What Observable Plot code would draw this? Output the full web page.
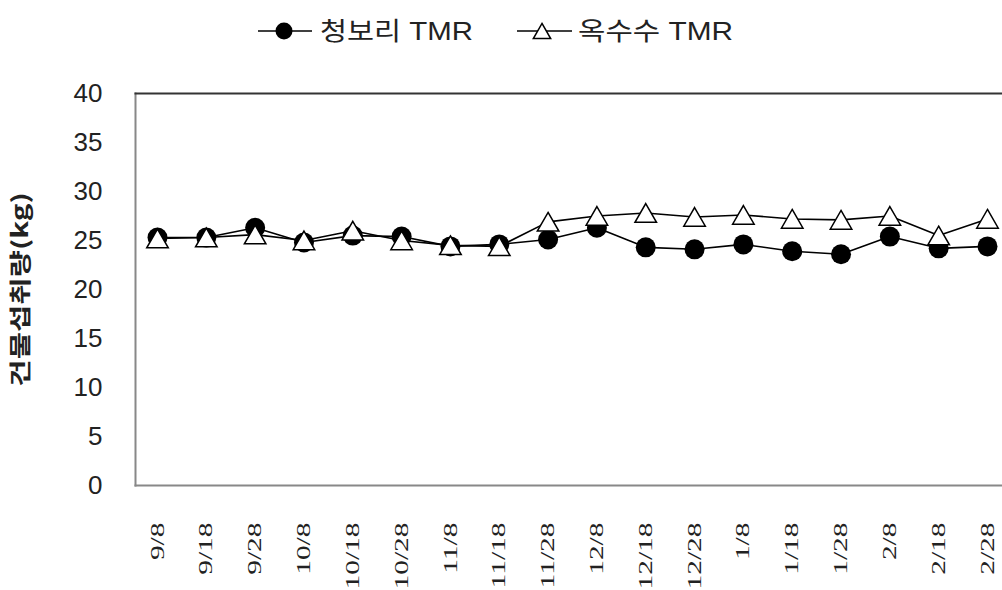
<!DOCTYPE html>
<html>
<head>
<meta charset="utf-8">
<script src="https://cdn.jsdelivr.net/npm/d3@7"></script>
<script src="https://cdn.jsdelivr.net/npm/@observablehq/plot@0.6"></script>
<style>
  body { margin: 0; background: white; }
  #chart { width: 1002px; height: 590px; overflow: hidden; position: relative; }
  #legend { display: block; }
</style>
</head>
<body>
<div id="chart">
  <svg id="legend" width="1002" height="60"></svg>
</div>
<script>
// Sampling dates (month/day)
const dates = ["9/8","9/18","9/28","10/8","10/18","10/28","11/8","11/18","11/28","12/8","12/18","12/28","1/8","1/18","1/28","2/8","2/18","2/28"];
// Dry matter intake (kg) per diet
const barley = [25.3, 25.3, 26.3, 24.8, 25.5, 25.4, 24.4, 24.6, 25.1, 26.3, 24.3, 24.1, 24.6, 23.9, 23.6, 25.4, 24.2, 24.4];
const corn   = [25.2, 25.3, 25.6, 25.0, 26.0, 25.0, 24.5, 24.4, 26.9, 27.5, 27.8, 27.4, 27.6, 27.2, 27.1, 27.5, 25.5, 27.2];
const seriesNames = ["청보리 TMR", "옥수수 TMR"];
const yTicks = [0, 5, 10, 15, 20, 25, 30, 35, 40];
const yTitle = "건물섭취량(kg)";

const barleyData = dates.map((d, i) => ({date: d, value: barley[i]}));
const cornData = dates.map((d, i) => ({date: d, value: corn[i]}));

// Legend above the plot
const lg = d3.select("#legend");
const sans = "Liberation Sans, Noto Sans CJK KR, sans-serif";
const cy = 31;
lg.append("line").attr("x1", 258).attr("x2", 312).attr("y1", cy).attr("y2", cy).attr("stroke", "black").attr("stroke-width", 1.5);
lg.append("circle").attr("cx", 284).attr("cy", cy).attr("r", 8.5).attr("fill", "black");
lg.append("text").attr("x", 320).attr("y", cy).attr("dy", "0.35em")
  .attr("font-family", sans).attr("font-size", 25).attr("fill", "#222")
  .attr("textLength", 153).attr("lengthAdjust", "spacingAndGlyphs").text(seriesNames[0]);
lg.append("line").attr("x1", 517).attr("x2", 572).attr("y1", cy).attr("y2", cy).attr("stroke", "black").attr("stroke-width", 1.5);
lg.append("path").attr("transform", `translate(542,${cy + 2.5})`)
  .attr("d", d3.symbol(d3.symbolTriangle, 130)()).attr("fill", "white").attr("stroke", "black").attr("stroke-width", 1.5);
lg.append("text").attr("x", 578).attr("y", cy).attr("dy", "0.35em")
  .attr("font-family", sans).attr("font-size", 25).attr("fill", "#222")
  .attr("textLength", 155).attr("lengthAdjust", "spacingAndGlyphs").text(seriesNames[1]);

const plot = Plot.plot({
  width: 1002,
  height: 530,
  marginLeft: 135,
  marginRight: 0,
  marginTop: 33,
  marginBottom: 105,
  style: {fontFamily: sans, color: "#222", background: "white", overflow: "visible"},
  x: {type: "point", domain: dates, range: [157, 987], padding: 0, round: false, axis: null},
  y: {domain: [0, 40]},
  marks: [
    Plot.frame({anchor: "left", stroke: "#888", strokeWidth: 2}),
    Plot.frame({anchor: "bottom", stroke: "#888", strokeWidth: 2}),
    Plot.frame({anchor: "top", stroke: "#333", strokeWidth: 2}),
    Plot.axisY({ticks: yTicks, tickSize: 0, tickPadding: 33, fontSize: 26, label: null}),
    // rotated date labels below the frame, reading bottom-to-top
    Plot.text(dates, {x: (d) => d, frameAnchor: "bottom", dy: 37, rotate: -90, textAnchor: "end", lineAnchor: "middle",
      fontSize: 19, fontFamily: "Liberation Serif, serif", fill: "#222"}),
    Plot.text([yTitle], {frameAnchor: "left", dx: -115, rotate: -90, textAnchor: "middle", lineAnchor: "middle",
      fontSize: 22, fontWeight: "bold", fontFamily: "Noto Sans CJK KR, sans-serif", fill: "#222"}),
    Plot.line(barleyData, {x: "date", y: "value", stroke: "black", strokeWidth: 1.6}),
    Plot.line(cornData, {x: "date", y: "value", stroke: "black", strokeWidth: 1.6}),
    Plot.dot(barleyData, {x: "date", y: "value", r: 10, fill: "black", symbol: "circle"}),
    // triangles are centred on their bounding box rather than their centroid
    Plot.dot(cornData, {x: "date", y: "value", r: 8, dy: 3, fill: "white", stroke: "black", strokeWidth: 1.5, symbol: "triangle"})
  ]
});

// Elongate the rotated labels along their reading direction
plot.querySelectorAll("text").forEach((node) => {
  const label = node.textContent;
  const k = dates.includes(label) ? 1.55 : label === yTitle ? 1.35 : null;
  if (k == null) return;
  const t = node.getAttribute("transform") || "";
  node.setAttribute("transform", `${t} scale(${k},1)`);
});

document.getElementById("chart").appendChild(plot);
</script>
</body>
</html>
